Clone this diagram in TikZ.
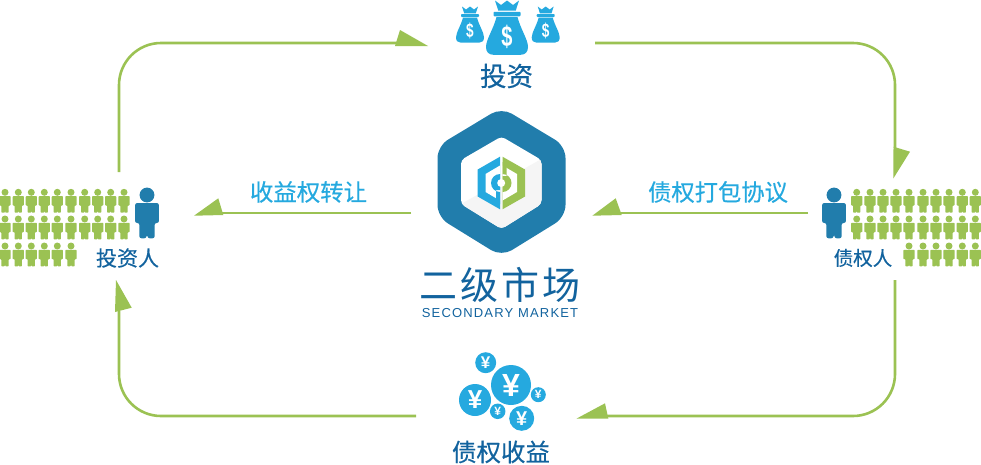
\documentclass[tikz,border=0pt]{standalone}
\usepackage{fontspec}
\setmainfont{Liberation Sans}
\newfontfamily\cjk[FakeBold=0.5]{Noto Sans CJK SC}
\newfontfamily\cjkthin{Noto Sans CJK SC}
\newfontfamily\spaced[LetterSpace=9]{Liberation Sans}
\usetikzlibrary{positioning}
\definecolor{leaf}{HTML}{9BC253}
\definecolor{deep}{HTML}{217DAC}
\definecolor{ink}{HTML}{12639E}
\definecolor{sky}{HTML}{25A9DF}
\newcommand{\fs}[1]{\fontsize{#1}{#1}\selectfont}
\tikzset{
	link/.style={draw=leaf, line width=2.6pt},
	tiphead/.style={fill=leaf},
	inklabel/.style={text=ink, inner sep=0pt, font=\cjk},
	skylabel/.style={text=sky, inner sep=0pt, font=\cjk},
	coin/.style={circle, fill=sky, text=white, inner sep=0pt},
	pics/person/.default=0.7pt,
	pics/person/.style={code={
		\fill[pic actions] (0,0) circle[radius=3.5];
		\fill[pic actions, rounded corners=#1] (-5.6,3.8) -- (5.6,3.8) -- (5.6,13.2) -- (3.6,13.2) -- (3.6,20.4) -- (0.25,20.4) -- (0.25,18.6) -- (-0.25,18.6) -- (-0.25,20.4) -- (-3.6,20.4) -- (-3.6,13.2) -- (-5.6,13.2) -- cycle;
	}},
}
% money bag: name, x, y, scale, size of the sign
\newcommand{\moneybag}[5]{
	\begin{scope}[shift={(#2,#3)},scale=#4]
		\fill[sky] (-8,-9) -- (-4,-6) -- (0,-9) -- (4,-6) -- (8,-9) -- (5.8,-2.2) -- (-5.8,-2.2) -- cycle;
		\fill[sky, rounded corners=0.8pt] (-9,-1.5) rectangle (9,1.5);
		\fill[sky] (-7,2) .. controls (-9,10) and (-14,17) .. (-14,22) .. controls (-14,25.5) and (-12,27.2) .. (-9,27.2) -- (9,27.2) .. controls (12,27.2) and (14,25.5) .. (14,22) .. controls (14,17) and (9,10) .. (7,2) -- cycle;
		\node[text=white, inner sep=0pt, font=\fs{#5}\bfseries] (#1) at (0,15) {\scalebox{0.8}[1.15]{\$}};
	\end{scope}
}

\begin{document}
\begin{tikzpicture}[x=1pt,y=-1pt]
	\useasboundingbox (0,0) rectangle (981,464);
	%Nodes
	\node[inklabel, font=\cjk\fs{26.5}] (invest) at (506.5,76) {投资};
	\node[inklabel, font=\cjk\fs{21}] (investor) at (127.5,258) {投资人};
	\node[inklabel, font=\cjk\fs{19.5}] (creditor) at (863,258) {债权人};
	\node[inklabel, font=\cjk\fs{24.5}] (income) at (501,452) {债权收益};
	\node[skylabel, font=\cjk\fs{23.4}] (rights) at (308.5,192) {收益权转让};
	\node[skylabel, font=\cjk\fs{23.3}] (package) at (718,192) {债权打包协议};
	\node[inklabel, font=\cjkthin\fs{38}] (market) at (500,285) {二\hspace{3pt}级\hspace{3pt}市\hspace{3pt}场};
	\node[text=ink, inner sep=0pt, font=\spaced\fs{13}] (marketen) at (500,313) {SECONDARY MARKET};

	\coordinate (topa) at (119,172);
	\coordinate (topb) at (397,43);
	\coordinate (topc) at (595,43);
	\coordinate (topd) at (895,148);
	\coordinate (bota) at (895,280);
	\coordinate (botb) at (607,416);
	\coordinate (botc) at (416,416);
	\coordinate (botd) at (119,311);
	\coordinate (mida) at (411,213);
	\coordinate (midb) at (222,213);
	\coordinate (midc) at (808,213);
	\coordinate (midd) at (620,213);

	%Lines
	\draw[link, rounded corners=42pt] (topa) |- (topb);
	\draw[link, rounded corners=42pt] (topc) -| (topd);
	\draw[link, rounded corners=42pt] (bota) |- (botb);
	\draw[link, rounded corners=42pt] (botc) -| (botd);
	\draw[link] (mida) -- (midb);
	\draw[link] (midc) -- (midd);

	\fill[tiphead] (428,46) -- (400,30) -- (395,46) -- cycle;
	\fill[tiphead] (893.3,178.5) -- (910,151.7) -- (893.5,146.7) -- cycle;
	\fill[tiphead] (576.7,418.5) -- (605,403.3) -- (608.3,418.5) -- cycle;
	\fill[tiphead] (116,280) -- (131.7,307.7) -- (115,312) -- cycle;
	\fill[tiphead] (194,215.7) -- (218.3,198.3) -- (223.3,215) -- cycle;
	\fill[tiphead] (592.3,215.7) -- (615.7,198.3) -- (621.7,215) -- cycle;

	%People
	\foreach \y in {192.3,219} {
		\foreach \x in {5,18.3,31.3,44.3,57.3,71,84.7,97.7,110.7,124}
			\pic[fill=leaf] at (\x,\y) {person};
		\foreach \x in {856.7,870,883,896,909,923,936,949,962.3,975.3}
			\pic[fill=leaf] at (\x,\y) {person};
	}
	\foreach \x in {5,18.3,31.3,44.3,57.3,71}
		\pic[fill=leaf] at (\x,246) {person};
	\foreach \x in {909,923,936,949,962.3,975.3}
		\pic[fill=leaf] at (\x,246) {person};
	\pic[fill=deep, scale=2.12] at (147,195) {person=2pt};
	\pic[fill=deep, scale=2.12] at (834,195) {person=2pt};

	%Bags
	\moneybag{bagleft}{470}{15.5}{1}{17}
	\moneybag{bagright}{545.7}{15.5}{1}{17}
	\moneybag{bagmid}{507}{14}{1.5}{25}

	%Coins
	\node[coin, minimum size=40pt, font=\fs{32}\bfseries] (coina) at (511,385) {¥};
	\node[coin, minimum size=32pt, font=\fs{26}\bfseries] (coinb) at (475,400) {¥};
	\node[coin, minimum size=21pt, font=\fs{17}\bfseries] (coinc) at (485.7,362.7) {¥};
	\node[coin, minimum size=15pt, font=\fs{12}\bfseries] (coind) at (538.3,394.7) {¥};
	\node[coin, minimum size=15.5pt, font=\fs{12}\bfseries] (coine) at (497.7,411.3) {¥};
	\node[coin, minimum size=25pt, font=\fs{20}\bfseries] (coinf) at (521.7,418.3) {¥};

	%Hexagon
	\fill[deep, rounded corners=12pt] (501.5,107.5) -- (565.5,146) -- (565.5,217) -- (501.5,256.5) -- (437.5,217) -- (437.5,146) -- cycle;
	\fill[white, rounded corners=4pt] (501.5,136.5) -- (541.5,160) -- (541.5,204) -- (501.5,229) -- (461,204) -- (461,160) -- cycle;
	\begin{scope}
		\clip[rounded corners=4pt] (501.5,136.5) -- (541.5,160) -- (541.5,204) -- (501.5,229) -- (461,204) -- (461,160) -- cycle;
		\fill[black!4] (461,204) -- (541.5,159) -- (545,235) -- (455,235) -- cycle;
	\end{scope}
	\fill[sky] (500,156.7) -- (477.7,169.5) -- (477.7,196.5) -- (500,209.3) -- cycle;
	\fill[white] (500,165.5) -- (485.5,174) -- (485.5,192) -- (500,200.5) -- cycle;
	\fill[sky] (500,174) arc[start angle=270, end angle=90, radius=9] -- (500,204) -- (496,204) -- (496,190) -- (500,190) -- cycle;
	\fill[leaf] (502.5,156.7) -- (525,169.5) -- (525,196.5) -- (502.5,209.3) -- cycle;
	\fill[white] (502.5,165.5) -- (517,174) -- (517,192) -- (502.5,200.5) -- cycle;
	\fill[leaf] (502.5,192) arc[start angle=90, end angle=-90, radius=9] -- (502.5,162) -- (506.5,162) -- (506.5,176) -- (502.5,176) -- cycle;
	\fill[white] (501.2,183) circle[radius=4];
\end{tikzpicture}
\end{document}
